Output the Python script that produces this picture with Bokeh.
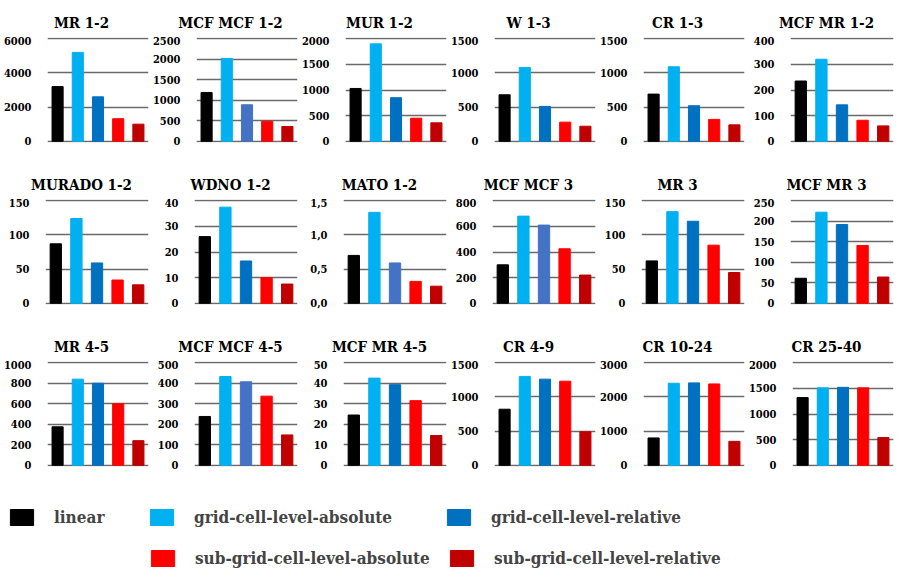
from bokeh.plotting import figure
from bokeh.layouts import row, column
from bokeh.models import (Range1d, FactorRange, FixedTicker, CustomJSTickFormatter,
                          Legend, LegendItem, ColumnDataSource, Label)
from bokeh.embed import file_html
from bokeh.resources import INLINE

# ---------------- data ----------------
series = ["linear", "grid-cell-level-absolute", "grid-cell-level-relative",
          "sub-grid-cell-level-absolute", "sub-grid-cell-level-relative"]
colors = ["#000000", "#00B0F0", "#0070C0", "#FF0000", "#C00000"]
alt_blue = "#4472C4"

mr_1_2 = [3200, 5200, 2600, 1320, 1000]
mcf_mcf_1_2 = [1190, 2020, 890, 490, 360]
mur_1_2 = [1030, 1900, 850, 450, 360]
w_1_3 = [680, 1080, 510, 280, 220]
cr_1_3 = [690, 1090, 520, 320, 240]
mcf_mr_1_2 = [235, 320, 142, 82, 60]
murado_1_2 = [87, 124, 59, 34, 27]
wdno_1_2 = [26, 37.5, 16.5, 10, 7.5]
mato_1_2 = [0.70, 1.33, 0.59, 0.32, 0.25]
mcf_mcf_3 = [300, 680, 610, 425, 220]
mr_3 = [62, 134, 120, 85, 45]
mcf_mr_3 = [61, 222, 192, 141, 64]
mr_4_5 = [375, 840, 800, 600, 240]
mcf_mcf_4_5 = [238, 433, 407, 337, 148]
mcf_mr_4_5 = [24.5, 42.5, 39.3, 31.5, 14.5]
cr_4_9 = [820, 1300, 1260, 1230, 490]
cr_10_24 = [800, 2400, 2410, 2380, 700]
cr_25_40 = [1320, 1510, 1520, 1510, 540]

# (title, values, axis max, tick step, alt third colour, comma decimals)
panels = [
    ("MR 1-2", mr_1_2, 6000, 2000, False, False),
    ("MCF MCF 1-2", mcf_mcf_1_2, 2500, 500, True, False),
    ("MUR 1-2", mur_1_2, 2000, 500, False, False),
    ("W 1-3", w_1_3, 1500, 500, False, False),
    ("CR 1-3", cr_1_3, 1500, 500, False, False),
    ("MCF MR 1-2", mcf_mr_1_2, 400, 100, False, False),
    ("MURADO 1-2", murado_1_2, 150, 50, False, False),
    ("WDNO 1-2", wdno_1_2, 40, 10, False, False),
    ("MATO 1-2", mato_1_2, 1.5, 0.5, True, True),
    ("MCF MCF 3", mcf_mcf_3, 800, 200, True, False),
    ("MR 3", mr_3, 150, 50, False, False),
    ("MCF MR 3", mcf_mr_3, 250, 50, False, False),
    ("MR 4-5", mr_4_5, 1000, 200, False, False),
    ("MCF MCF 4-5", mcf_mcf_4_5, 500, 100, True, False),
    ("MCF MR 4-5", mcf_mr_4_5, 50, 10, False, False),
    ("CR 4-9", cr_4_9, 1500, 500, False, False),
    ("CR 10-24", cr_10_24, 3000, 1000, False, False),
    ("CR 25-40", cr_25_40, 2000, 500, False, False),
]

FONT = "DejaVu Serif Condensed"
GRID = "#6a6a6a"
PANEL_W = 149
TITLE_H = 36


def make_panel(vals, ymax, step, alt, comma):
    cols = list(colors)
    if alt:
        cols[2] = alt_blue
    pad = ymax * 0.012
    p = figure(width=PANEL_W, height=126, x_range=FactorRange(*series),
               y_range=Range1d(-pad, ymax + pad),
               output_backend="svg", toolbar_location=None,
               min_border_left=45, min_border_right=1,
               min_border_top=1, min_border_bottom=20)
    src = ColumnDataSource(dict(x=series, top=vals, color=cols))
    p.vbar(x="x", top="top", width=0.55, fill_color="color",
           line_color="color", source=src)
    p.xaxis.visible = False
    p.xgrid.visible = False
    p.outline_line_color = None
    ticks = []
    t = 0.0
    while t <= ymax + step * 0.01:
        ticks.append(round(t, 6))
        t += step
    p.yaxis.ticker = FixedTicker(ticks=ticks)
    p.ygrid.ticker = FixedTicker(ticks=ticks)
    p.ygrid.grid_line_color = GRID
    p.ygrid.grid_line_width = 1.5
    p.yaxis.axis_line_color = None
    p.yaxis.major_tick_line_color = None
    p.yaxis.minor_tick_line_color = None
    p.yaxis.major_label_standoff = 10
    p.yaxis.major_label_text_font = FONT
    p.yaxis.major_label_text_font_style = "bold"
    p.yaxis.major_label_text_font_size = "11px"
    p.yaxis.major_label_text_color = "#000000"
    if comma:
        p.yaxis.formatter = CustomJSTickFormatter(
            code="return tick.toFixed(1).replace('.', ',');")
    else:
        p.yaxis.formatter = CustomJSTickFormatter(
            code="return Math.round(tick).toString();")
    return p


def make_title_strip(names):
    f = figure(width=897, height=TITLE_H, x_range=Range1d(0, 1), y_range=Range1d(0, 1),
               output_backend="svg", toolbar_location=None, min_border=0,
               x_axis_type=None, y_axis_type=None)
    f.grid.visible = False
    f.outline_line_color = None
    for i, name in enumerate(names):
        f.add_layout(Label(x=81 + PANEL_W * i, y=14, x_units="screen", y_units="screen",
                           text=name, text_align="center", text_baseline="alphabetic",
                           text_font=FONT, text_font_style="bold",
                           text_font_size="15px", text_color="#000000"))
    return f


rows = []
for r in range(3):
    chunk = panels[r * 6:(r + 1) * 6]
    rows.append(make_title_strip([c[0] for c in chunk]))
    rows.append(row(*[make_panel(*c[1:]) for c in chunk]))

# ---------------- legend ----------------
# renderers exist only to supply legend swatches; their zero-height bars sit
# below the visible y range
lf = figure(width=897, height=85, x_range=FactorRange(*series), y_range=Range1d(1, 2),
            output_backend="svg", toolbar_location=None, min_border=0,
            x_axis_type=None, y_axis_type=None)
lf.grid.visible = False
lf.outline_line_color = None
rends = [lf.vbar(x=[s], top=[0], width=0.5, fill_color=c, line_color=c)
         for s, c in zip(series, colors)]
legend_pos = [(7, 44), (147, 44), (444, 44), (148, 3), (447, 3)]
for rd, s, loc in zip(rends, series, legend_pos):
    leg = Legend(items=[LegendItem(label=s, renderers=[rd])], location=loc,
                 orientation="horizontal", padding=0, margin=0,
                 border_line_color=None, background_fill_alpha=0,
                 glyph_width=29, glyph_height=20, label_standoff=18,
                 label_text_font=FONT, label_text_font_style="bold",
                 label_text_font_size="17px", label_height=20)
    lf.add_layout(leg)

layout = column(*rows, lf)
open("out.html", "w").write(file_html(layout, INLINE))
